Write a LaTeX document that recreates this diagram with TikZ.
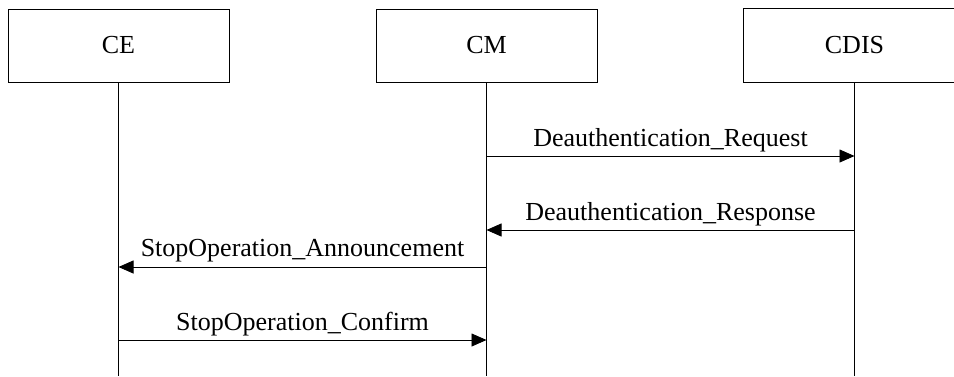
\documentclass[tikz,border=0pt]{standalone}
\usepackage{fontspec}
\setmainfont{Liberation Serif}
\usetikzlibrary{arrows.meta}
\begin{document}
\begin{tikzpicture}[x=1pt,y=-1pt,
  actor/.style={draw=black,line width=0.8pt,minimum width=221pt,minimum height=73pt,inner sep=0pt,font=\fontsize{26}{30}\selectfont},
  life/.style={draw=black,line width=0.8pt},
  msg/.style={draw=black,line width=0.8pt,-{Triangle[length=15pt,width=13pt]}},
  lbl/.style={anchor=base,inner sep=0pt,font=\fontsize{26}{30}\selectfont}]
\useasboundingbox (0,0) rectangle (954,376);
\clip (0,0) rectangle (954,376);
\node[actor] (ce) at (118.5,45.5) {CE};
\node[actor] (cm) at (486.5,45.5) {CM};
\node[actor,draw=none] (cdis) at (854.5,45.5) {CDIS};
\draw[life] ([xshift=30pt]cdis.north east) -- (cdis.north west) -- (cdis.south west) -- ([xshift=30pt]cdis.south east);
\coordinate (ceend) at (118.5,376);
\coordinate (cmend) at (486.5,376);
\coordinate (cdisend) at (854.5,376);
\draw[life] (ce.south) -- (ceend);
\draw[life] (cm.south) -- (cmend);
\draw[life] (cdis.south) -- (cdisend);
% message points on lifelines
\coordinate (cm1) at (486.5,156);
\coordinate (cdis1) at (854.5,156);
\coordinate (cm2) at (486.5,230);
\coordinate (cdis2) at (854.5,230);
\coordinate (cm3) at (486.5,267);
\coordinate (ce3) at (118.5,267);
\coordinate (cm4) at (486.5,340);
\coordinate (ce4) at (118.5,340);
\draw[msg] (cm1) -- (cdis1);
\draw[msg] (cdis2) -- (cm2);
\draw[msg] (cm3) -- (ce3);
\draw[msg] (ce4) -- (cm4);
\node[lbl] (l1) at (670.5,146) {Deauthentication\_Request};
\node[lbl] (l2) at (670.5,220) {Deauthentication\_Response};
\node[lbl] (l3) at (302.5,256) {StopOperation\_Announcement};
\node[lbl] (l4) at (302.5,330) {StopOperation\_Confirm};
\end{tikzpicture}
\end{document}
